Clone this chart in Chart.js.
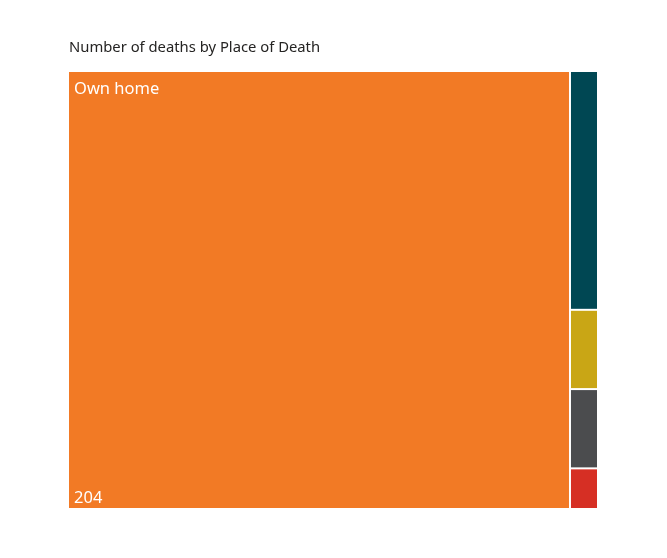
<!DOCTYPE html>
<html>
<head>
<meta charset="utf-8">
<script src="https://cdn.jsdelivr.net/npm/chart.js@4/dist/chart.umd.min.js"></script>
<style>
  html, body { margin: 0; padding: 0; background: #fff; }
  #wrap { width: 667px; height: 558px; }
</style>
</head>
<body>
<div id="wrap"><canvas id="treeChart"></canvas></div>
<script>
let places = ["Own home", "Hospital", "Care home", "Hospice", "Other"];
let deaths = [204, 6, 2, 2, 1];
let colors = ["#F27A25", "#004753", "#C9A615", "#4B4C4E", "#D62F24"];
let chartTitle = "Number of deaths by Place of Death";

let total = deaths.reduce((a, b) => a + b, 0);

// simple two column layout in data units: x 0..total, y 0..1
function layoutCells() {
    let cells = [];
    let first = deaths[0];
    cells.push({ i: 0, x0: 0, x1: first, y0: 1, y1: 0 });
    let rest = total - first;
    let y = 1;
    for (let i = 1; i < deaths.length; i++) {
        let h = deaths[i] / rest;
        cells.push({ i: i, x0: first, x1: total, y0: y, y1: y - h });
        y -= h;
    }
    return cells;
}

const treemapPlugin = {
    id: 'treemap',
    afterDatasetsDraw(chart) {
        const ctx = chart.ctx;
        const xs = chart.scales.x, ys = chart.scales.y;
        const area = chart.chartArea;
        ctx.save();
        layoutCells().forEach(c => {
            let left = xs.getPixelForValue(c.x0), right = xs.getPixelForValue(c.x1);
            let top = ys.getPixelForValue(c.y0), bottom = ys.getPixelForValue(c.y1);
            if (left > area.left + 0.5) left += 1;
            if (right < area.right - 0.5) right -= 1;
            if (top > area.top + 0.5) top += 1;
            if (bottom < area.bottom - 0.5) bottom -= 1;
            ctx.fillStyle = colors[c.i];
            ctx.fillRect(left, top, right - left, bottom - top);
            if (right - left > 60) {
                ctx.fillStyle = "#fff";
                ctx.font = "16.5px 'Noto Sans'";
                ctx.textAlign = "left";
                ctx.textBaseline = "middle";
                ctx.fillText(places[c.i], left + 5, top + 17);
                ctx.textBaseline = "alphabetic";
                ctx.fillText(String(deaths[c.i]), left + 5, bottom - 5);
            }
        });
        ctx.fillStyle = "#252423";
        ctx.font = "14.8px 'Noto Sans'";
        ctx.textAlign = "left";
        ctx.textBaseline = "middle";
        ctx.fillText(chartTitle, area.left, 48);
        ctx.restore();
    }
};

const ctx = document.getElementById('treeChart').getContext('2d');
let treeChart = new Chart(ctx, {
    type: 'scatter',
    data: { datasets: [{ label: 'Deaths', data: [] }] },
    options: {
        responsive: true,
        maintainAspectRatio: false,
        animation: false,
        layout: { padding: { left: 69, right: 70, top: 72, bottom: 50 } },
        plugins: { legend: { display: false }, title: { display: false }, tooltip: { enabled: false } },
        scales: {
            x: { type: 'linear', min: 0, max: total, display: false },
            y: { type: 'linear', min: 0, max: 1, display: false }
        }
    },
    plugins: [treemapPlugin]
});
</script>
</body>
</html>
